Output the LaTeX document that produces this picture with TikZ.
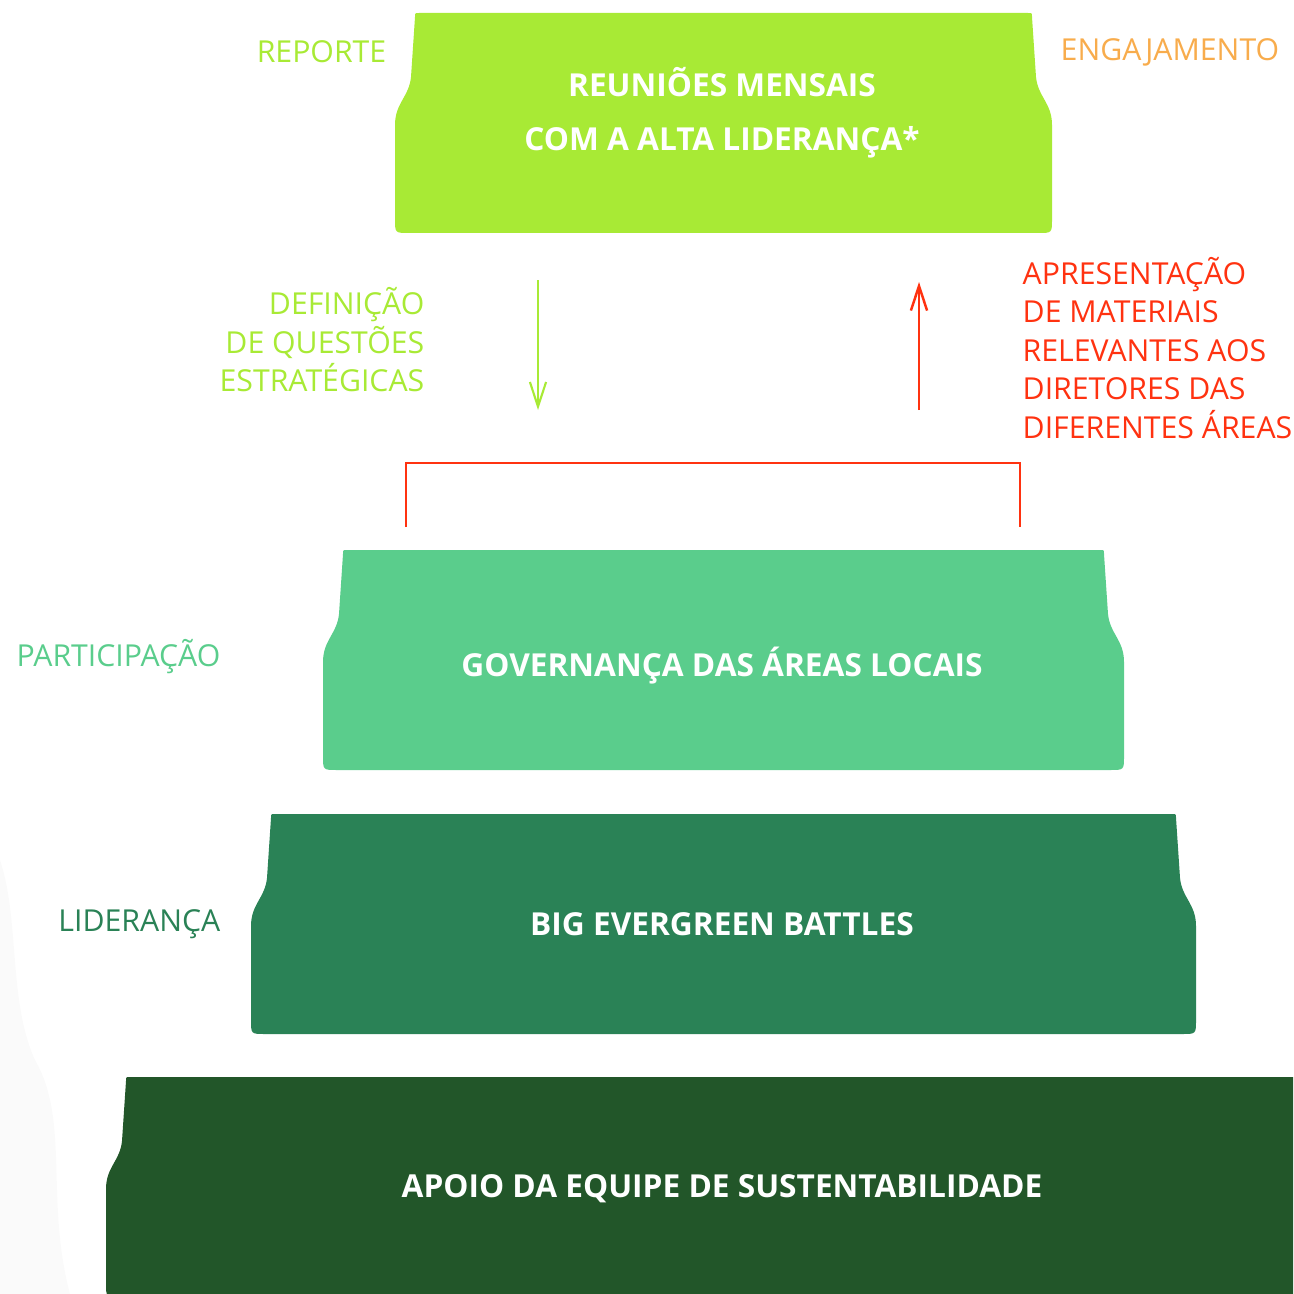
\documentclass[tikz,border=0pt]{standalone}
\usepackage{fontspec}
\setmainfont{Open Sans}
\usetikzlibrary{arrows.meta}
\definecolor{limeg}{HTML}{A8EA35}
\definecolor{orangeg}{HTML}{F8AC4C}
\definecolor{redg}{HTML}{FF3210}
\definecolor{midg}{HTML}{5ACD8C}
\definecolor{darkg}{HTML}{2A8256}
\definecolor{deepg}{HTML}{225629}
% tier: colour, left, right, top (pixel units)
\newcommand{\tier}[4]{%
  \fill[#1] ({#2+24},#4) -- ({#3-24},#4) .. controls ({#3-20},#4) .. ({#3-20},{#4+4})
    -- ({#3-16},{#4+64}) .. controls ({#3-14},{#4+84}) and (#3,{#4+90}) .. (#3,{#4+112})
    -- (#3,{#4+206}) .. controls (#3,{#4+220}) .. ({#3-14},{#4+220})
    -- ({#2+14},{#4+220}) .. controls (#2,{#4+220}) .. (#2,{#4+206})
    -- (#2,{#4+112}) .. controls (#2,{#4+90}) and ({#2+14},{#4+84}) .. ({#2+16},{#4+64})
    -- ({#2+20},{#4+4}) .. controls ({#2+20},#4) .. cycle;}
\begin{document}
\begin{tikzpicture}[x=0.01cm, y=-0.01cm, >={Straight Barb[length=7pt,width=4.6pt]},
    lbl/.style={inner sep=0pt, font=\fontsize{8.6}{10.95}\selectfont},
    boxtxt/.style={inner sep=0pt, text=white, font=\fontsize{9}{15.4}\selectfont\bfseries}]
  \useasboundingbox (0,0) rectangle (1293,1294);
  \clip (0,0) rectangle (1293,1294);
  \fill[gray!4] (0,860) .. controls (20,920) and (8,1000) .. (35,1060)
    .. controls (70,1120) and (45,1200) .. (70,1294) -- (0,1294) -- cycle;
  % tiers
  \tier{limeg}{395}{1052}{13}
  \tier{midg}{323}{1124}{550}
  \tier{darkg}{251}{1196}{814}
  \tier{deepg}{106}{1420}{1077}
  \node[boxtxt, align=center] (reunioes) at (722,113) {REUNIÕES MENSAIS\\COM A ALTA LIDERANÇA*};
  \node[boxtxt] (governanca) at (722,666) {GOVERNANÇA DAS ÁREAS LOCAIS};
  \node[boxtxt] (battles) at (722,924) {BIG EVERGREEN BATTLES};
  \node[boxtxt] (apoio) at (722,1189) {APOIO DA EQUIPE DE SUSTENTABILIDADE};
  % side labels
  \node[lbl, text=limeg, anchor=east] (reporte) at (387,52) {REPORTE};
  \node[lbl, text=orangeg, anchor=west] (engajamento) at (1060,52) {ENGAJAMENTO};
  \node[lbl, text=midg, anchor=east] (participacao) at (221,657) {PARTICIPAÇÃO};
  \node[lbl, text=darkg, anchor=east] (lideranca) at (221,924) {LIDERANÇA};
  \node[lbl, text=limeg, align=right, anchor=east] (definicao) at (425,340)
    {DEFINIÇÃO\\DE QUESTÕES\\ESTRATÉGICAS};
  \node[lbl, text=redg, align=left, anchor=west] (apresentacao) at (1022,348)
    {APRESENTAÇÃO\\DE MATERIAIS\\RELEVANTES AOS\\DIRETORES DAS\\DIFERENTES ÁREAS};
  % arrows and bracket
  \coordinate (downTop) at (538,280); \coordinate (downEnd) at (538,410);
  \coordinate (upStart) at (919,410); \coordinate (upEnd) at (919,282);
  \coordinate (brL) at (406,527); \coordinate (brR) at (1020,527);
  \draw[->, limeg, line width=0.6pt] (downTop) -- (downEnd);
  \draw[->, redg, line width=0.7pt] (upStart) -- (upEnd);
  \draw[redg, line width=0.7pt] (brL) -- ++(0,-64) -| (brR);
\end{tikzpicture}
\end{document}
